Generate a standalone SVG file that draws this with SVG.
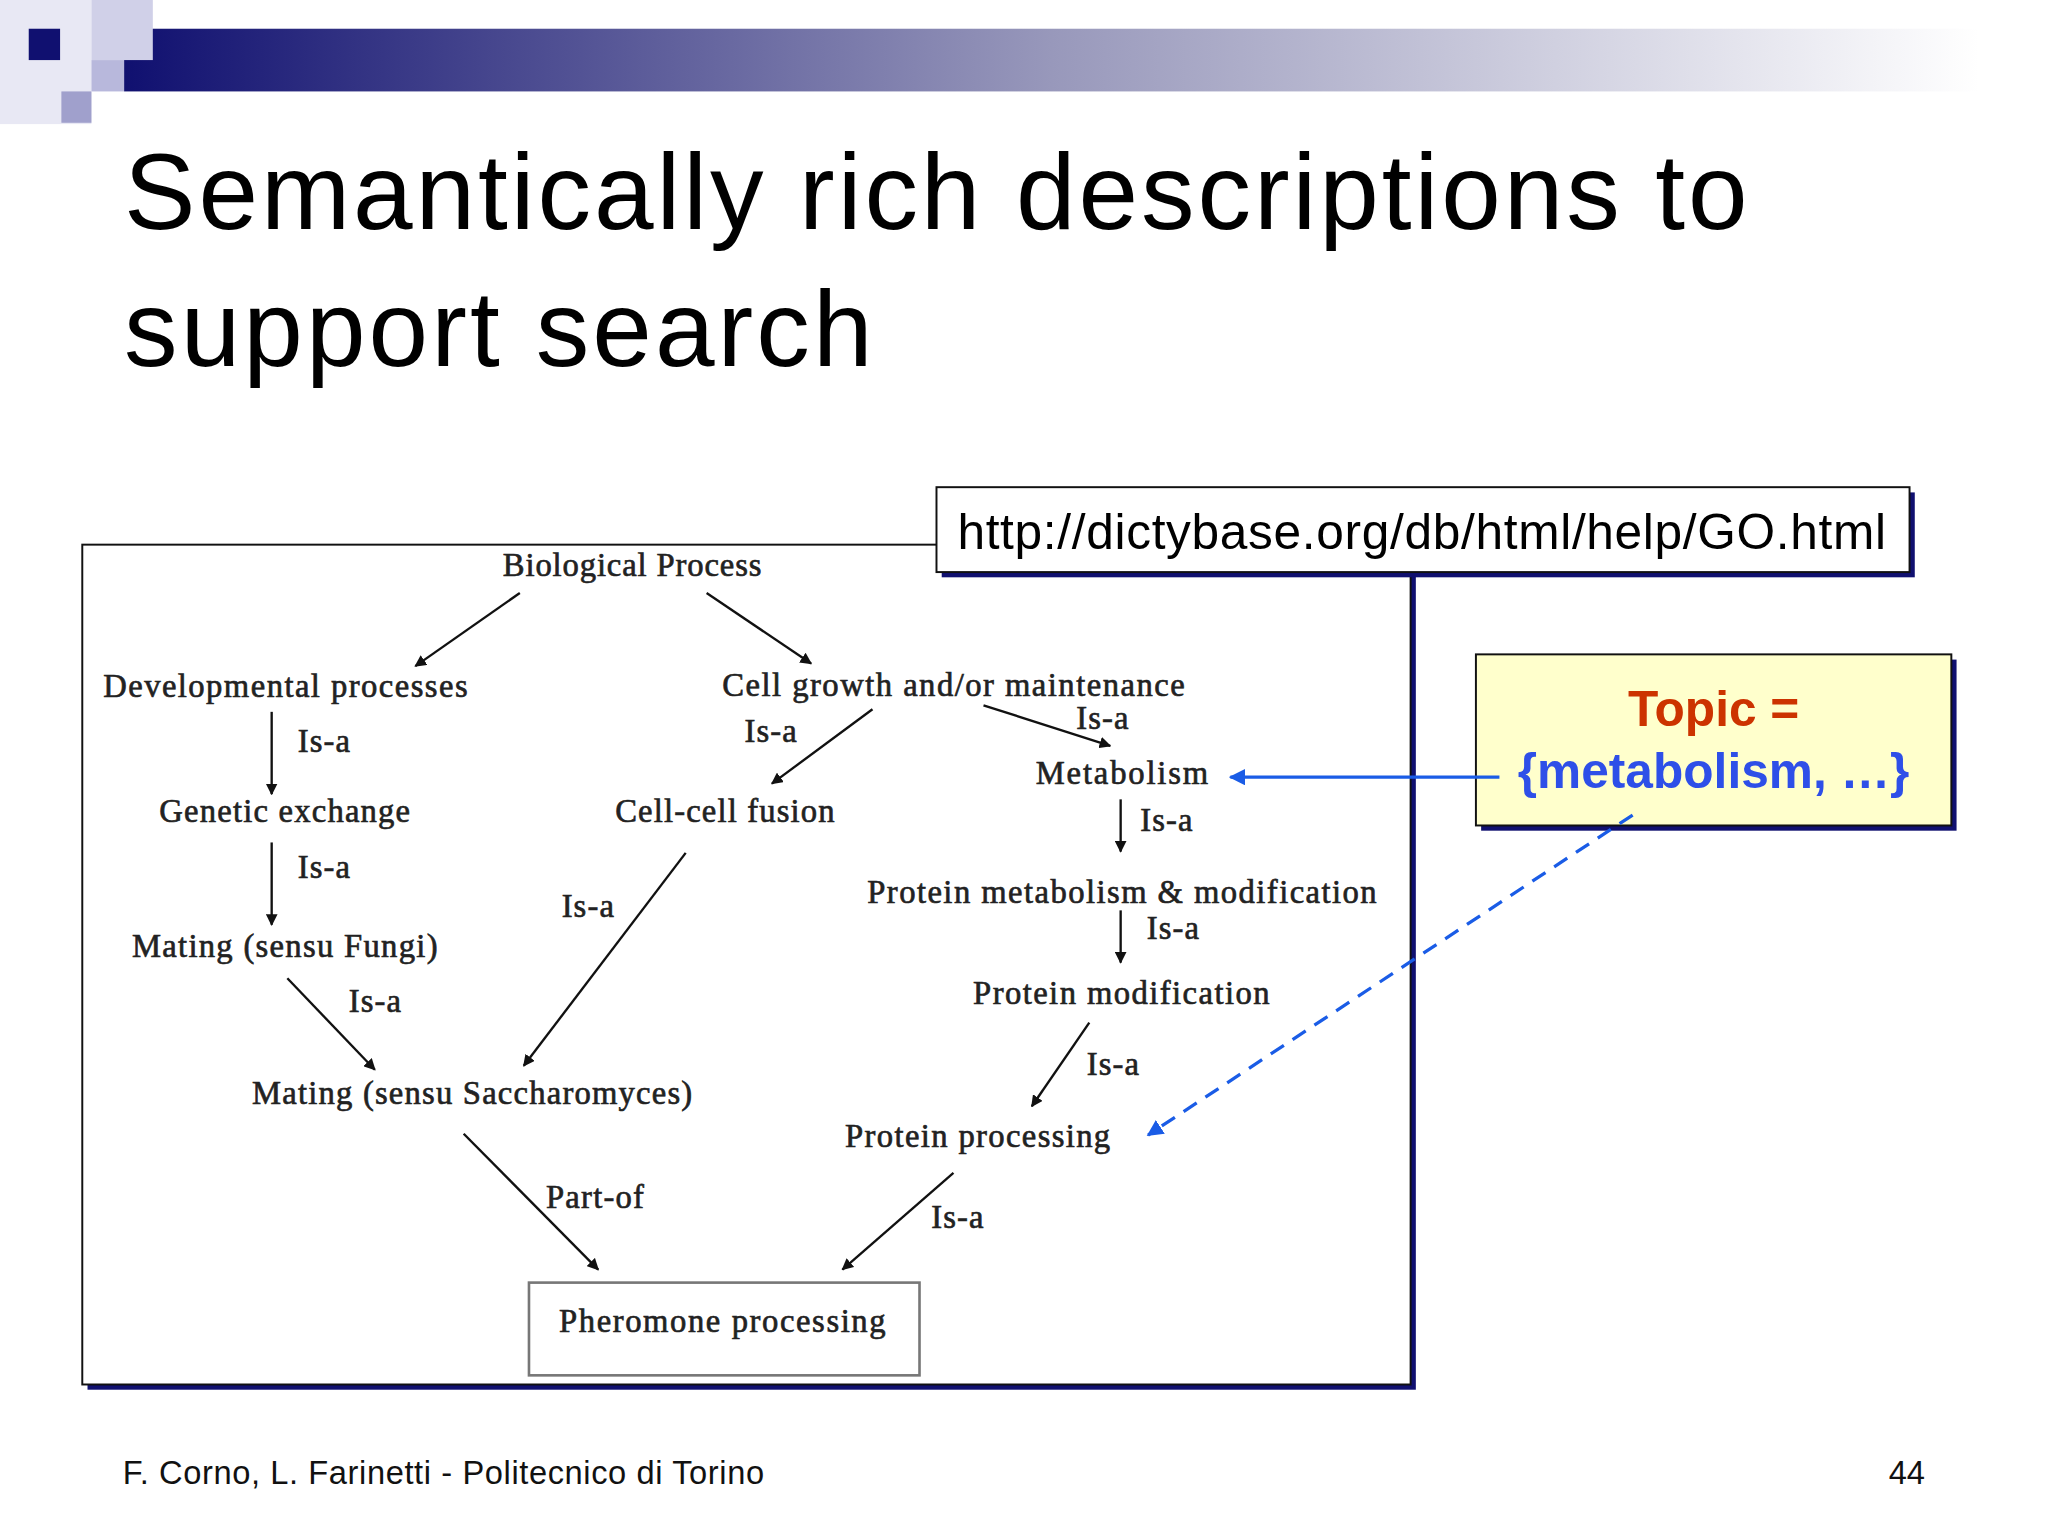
<svg xmlns="http://www.w3.org/2000/svg" width="2048" height="1536" viewBox="0 0 2048 1536">
<defs>
<linearGradient id="bar" x1="0" x2="1" y1="0" y2="0">
<stop offset="0" stop-color="#101070"/><stop offset="0.5" stop-color="#9898bb"/><stop offset="1" stop-color="#ffffff"/>
</linearGradient>
<marker id="ah" viewBox="0 0 10 10" refX="9" refY="5" markerWidth="5" markerHeight="5" orient="auto"><path d="M0,0 L10,5 L0,10 z" fill="#111"/></marker>
<marker id="bh" viewBox="0 0 10 10" refX="9" refY="5" markerWidth="5" markerHeight="5" orient="auto"><path d="M0,0 L10,5 L0,10 z" fill="#1a5ce6"/></marker>
<style>
.d{font-family:"Liberation Serif",serif;font-size:25px;fill:#222;stroke:#222;stroke-width:0.5}
.c{stroke:#111;stroke-width:1.8;fill:none;marker-end:url(#ah)}
.s{font-family:"Liberation Sans",Arial,sans-serif}
</style>
</defs>
<rect width="2048" height="1536" fill="#fff"/>
<g transform="scale(1.30612)">
<g id="header">
<rect x="95" y="22" width="1420" height="48" fill="url(#bar)"/>
<rect x="0" y="0" width="70" height="95" fill="#e8e8f4"/>
<rect x="70" y="0" width="47" height="46" fill="#d0d0e8"/>
<rect x="70" y="46" width="25" height="24" fill="#b8b8dc"/>
<rect x="47" y="70" width="23" height="24" fill="#a0a0cc"/>
<rect x="22" y="22" width="24" height="24" fill="#101070"/>
</g>
<text class="s" x="95" y="175" font-size="82" textLength="1243" fill="#000">Semantically rich descriptions to</text>
<text class="s" x="95" y="280" font-size="82" textLength="573" fill="#000">support search</text>
<g id="frame">
<rect x="67" y="421" width="1017" height="643" fill="#101070"/>
<rect x="63" y="417" width="1017" height="643" fill="#fff" stroke="#111" stroke-width="1.5"/>
</g>
<g id="url">
<rect x="721" y="377" width="745" height="65" fill="#101070"/>
<rect x="717" y="373" width="745" height="65" fill="#fff" stroke="#111" stroke-width="1.5"/>
<text class="s" x="733" y="420" font-size="38" textLength="711" fill="#000">http://dictybase.org/db/html/help/GO.html</text>
</g>
<g id="topic">
<rect x="1134" y="505" width="364" height="131" fill="#101070"/>
<rect x="1130" y="501" width="364" height="131" fill="#ffffcc" stroke="#111" stroke-width="1.5"/>
<text class="s" x="1312" y="556" font-size="38" font-weight="bold" fill="#cc3300" text-anchor="middle">Topic =</text>
<text class="s" x="1312" y="603" font-size="38" font-weight="bold" fill="#2e4fe8" text-anchor="middle">{metabolism, …}</text>
</g>
<g id="nodes">
<g id="n-bio"><text class="d" x="385" y="441" textLength="198">Biological Process</text></g>
<g id="n-dev"><text class="d" x="79" y="534" textLength="279">Developmental processes</text></g>
<g id="n-cg"><text class="d" x="553" y="533" textLength="354">Cell growth and/or maintenance</text></g>
<g id="n-met"><text class="d" x="793" y="600" textLength="132">Metabolism</text></g>
<g id="n-ge"><text class="d" x="122" y="629" textLength="192">Genetic exchange</text></g>
<g id="n-ccf"><text class="d" x="471" y="629" textLength="168">Cell-cell fusion</text></g>
<g id="n-pmm"><text class="d" x="664" y="691" textLength="390">Protein metabolism &amp; modification</text></g>
<g id="n-mf"><text class="d" x="101" y="733" textLength="234">Mating (sensu Fungi)</text></g>
<g id="n-pm"><text class="d" x="745" y="769" textLength="227">Protein modification</text></g>
<g id="n-ms"><text class="d" x="193" y="845" textLength="337">Mating (sensu Saccharomyces)</text></g>
<g id="n-pp"><text class="d" x="647" y="878" textLength="203">Protein processing</text></g>
<g id="n-ph"><rect x="405" y="982" width="299" height="71" fill="#fff" stroke="#777" stroke-width="2"/><text class="d" x="428" y="1020" textLength="250">Pheromone processing</text></g>
</g>
<g id="connectors">
<line class="c" x1="398" y1="454" x2="318" y2="510"/>
<line class="c" x1="541" y1="454" x2="621" y2="508"/>
<line class="c" x1="208" y1="545" x2="208" y2="608"/>
<line class="c" x1="208" y1="645" x2="208" y2="708"/>
<line class="c" x1="668" y1="543" x2="591" y2="600"/>
<line class="c" x1="753" y1="540" x2="850" y2="571"/>
<line class="c" x1="858" y1="612" x2="858" y2="652"/>
<line class="c" x1="858" y1="697" x2="858" y2="737"/>
<line class="c" x1="834" y1="783" x2="790" y2="847"/>
<line class="c" x1="525" y1="653" x2="401" y2="816"/>
<line class="c" x1="220" y1="749" x2="287" y2="819"/>
<line class="c" x1="355" y1="868" x2="458" y2="972"/>
<line class="c" x1="730" y1="898" x2="645" y2="972"/>
<line x1="1148" y1="595" x2="942" y2="595" stroke="#1a5ce6" stroke-width="2.5" marker-end="url(#bh)"/>
<line x1="1250" y1="624" x2="879" y2="869" stroke="#1a5ce6" stroke-width="2.5" stroke-dasharray="12,8" marker-end="url(#bh)"/>
<text class="d" x="228" y="576" textLength="40">Is-a</text>
<text class="d" x="228" y="672" textLength="40">Is-a</text>
<text class="d" x="570" y="568" textLength="40">Is-a</text>
<text class="d" x="824" y="558" textLength="40">Is-a</text>
<text class="d" x="873" y="636" textLength="40">Is-a</text>
<text class="d" x="878" y="719" textLength="40">Is-a</text>
<text class="d" x="832" y="823" textLength="40">Is-a</text>
<text class="d" x="430" y="702" textLength="40">Is-a</text>
<text class="d" x="267" y="775" textLength="40">Is-a</text>
<text class="d" x="418" y="925" textLength="75">Part-of</text>
<text class="d" x="713" y="940" textLength="40">Is-a</text>
</g>
<text class="s" x="94" y="1136" font-size="25" textLength="491" fill="#111">F. Corno, L. Farinetti - Politecnico di Torino</text>
<text class="s" x="1446" y="1136" font-size="25" fill="#111">44</text>
</g>
</svg>
